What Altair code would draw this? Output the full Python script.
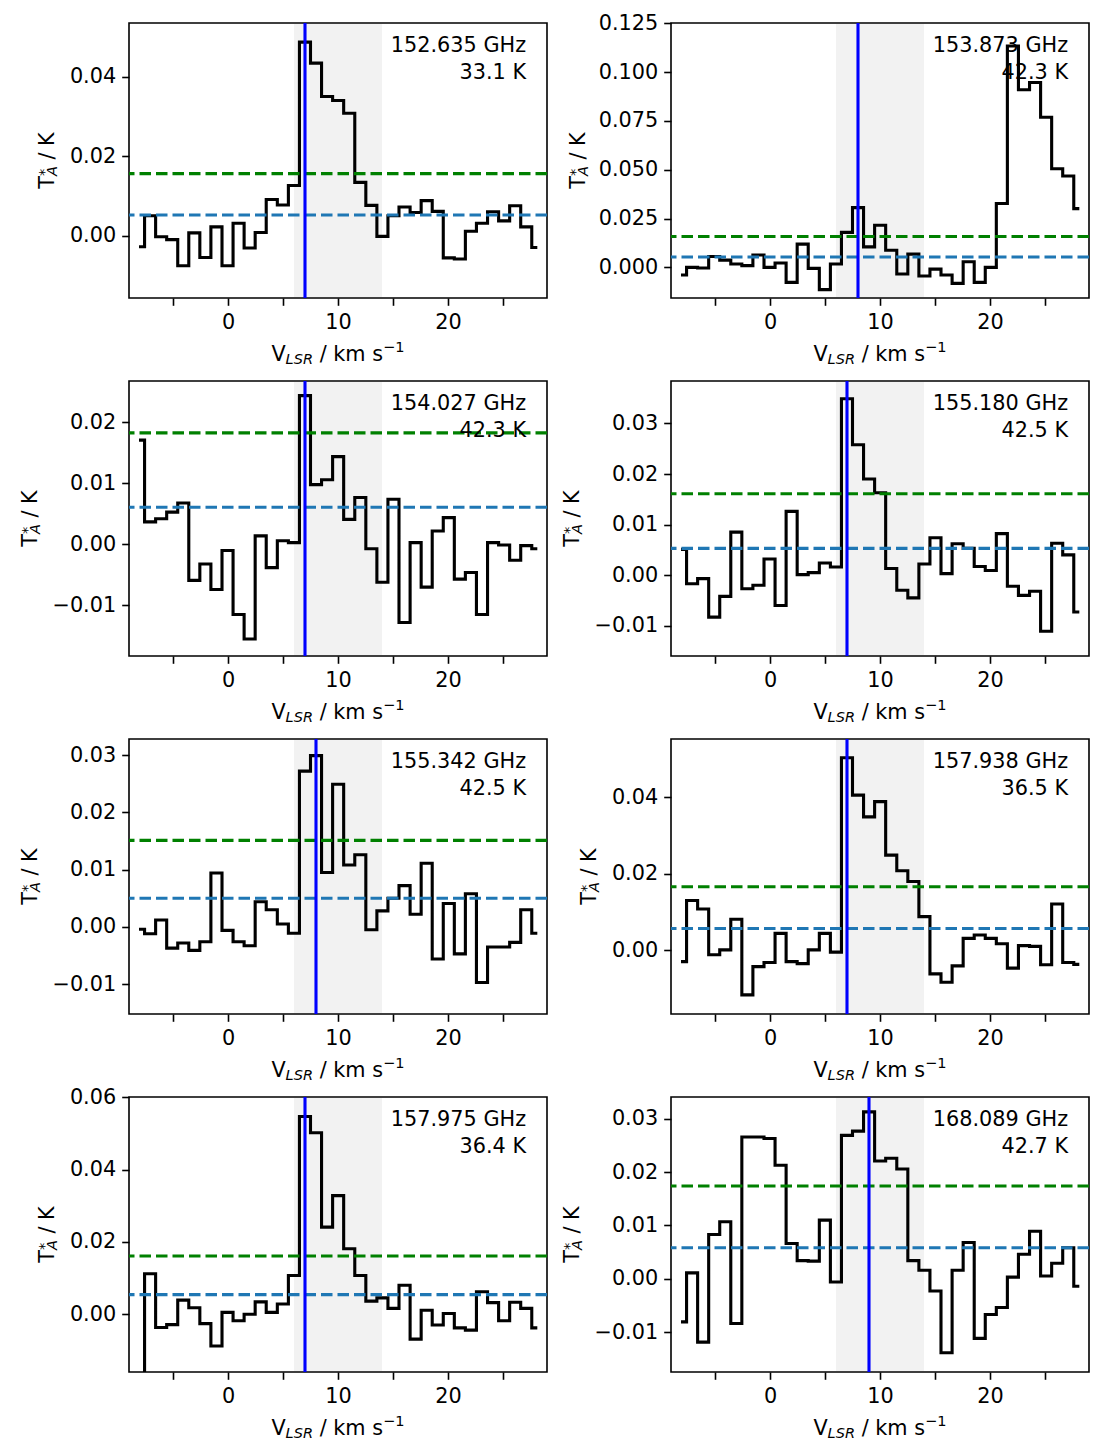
import altair as alt
import pandas as pd

# ---------------- data ----------------
VEL = [-8.09, -7.08, -6.08, -5.07, -4.07, -3.06, -2.06, -1.05, -0.04, 0.96,
       1.97, 2.97, 3.98, 4.99, 5.99, 7.00, 8.00, 9.01, 10.01, 11.02,
       12.03, 13.03, 14.04, 15.04, 16.05, 17.06, 18.06, 19.07, 20.07, 21.08,
       22.08, 23.09, 24.10, 25.10, 26.11, 27.11, 28.12]

T_152635 = [-0.0028, 0.0050, -0.0003, -0.0010, -0.0076, 0.0007, -0.0055, 0.0022, -0.0076, 0.0031,
            -0.0031, 0.0008, 0.0091, 0.0077, 0.0126, 0.0487, 0.0434, 0.0350, 0.0340, 0.0308,
            0.0134, 0.0076, -0.0002, 0.0050, 0.0072, 0.0058, 0.0088, 0.0061, -0.0056, -0.0059,
            0.0011, 0.0031, 0.0060, 0.0037, 0.0075, 0.0022, -0.0030]
T_153873 = [-0.0039, 0.0000, -0.0003, 0.0056, 0.0037, 0.0017, 0.0009, 0.0063, 0.0000, 0.0022,
            -0.0077, 0.0119, -0.0005, -0.0114, 0.0017, 0.0179, 0.0306, 0.0105, 0.0216, 0.0088,
            -0.0034, 0.0068, -0.0044, -0.0009, -0.0039, -0.0082, 0.0029, -0.0077, 0.0000, 0.0327,
            0.1134, 0.0910, 0.0947, 0.0769, 0.0505, 0.0468, 0.0301]
T_154027 = [0.0171, 0.0037, 0.0042, 0.0053, 0.0068, -0.0059, -0.0032, -0.0074, -0.0010, -0.0115,
            -0.0155, 0.0014, -0.0038, 0.0006, 0.0003, 0.0244, 0.0098, 0.0106, 0.0144, 0.0041,
            0.0077, -0.0007, -0.0062, 0.0074, -0.0128, 0.0003, -0.0070, 0.0022, 0.0044, -0.0057,
            -0.0046, -0.0115, 0.0003, -0.0001, -0.0026, -0.0002, -0.0007]
T_155180 = [0.0051, -0.0017, -0.0007, -0.0083, -0.0042, 0.0085, -0.0027, -0.0020, 0.0032, -0.0060,
            0.0126, 0.0001, 0.0005, 0.0024, 0.0016, 0.0349, 0.0258, 0.0190, 0.0163, 0.0013,
            -0.0030, -0.0045, 0.0022, 0.0074, 0.0003, 0.0062, 0.0053, 0.0017, 0.0009, 0.0082,
            -0.0022, -0.0040, -0.0032, -0.0111, 0.0063, 0.0040, -0.0073]
T_155342 = [-0.0004, -0.0012, 0.0012, -0.0037, -0.0028, -0.0041, -0.0026, 0.0094, -0.0006, -0.0026,
            -0.0033, 0.0044, 0.0030, 0.0005, -0.0011, 0.0272, 0.0299, 0.0095, 0.0249, 0.0108,
            0.0126, -0.0005, 0.0028, 0.0050, 0.0072, 0.0022, 0.0111, -0.0056, 0.0041, -0.0047,
            0.0058, -0.0097, -0.0035, -0.0035, -0.0027, 0.0030, -0.0011]
T_157938 = [-0.0030, 0.0130, 0.0108, -0.0012, 0.0001, 0.0081, -0.0117, -0.0043, -0.0032, 0.0044,
            -0.0030, -0.0035, 0.0001, 0.0044, -0.0005, 0.0504, 0.0406, 0.0349, 0.0389, 0.0249,
            0.0208, 0.0180, 0.0088, -0.0062, -0.0084, -0.0041, 0.0031, 0.0040, 0.0031, 0.0017,
            -0.0047, 0.0012, 0.0010, -0.0038, 0.0121, -0.0032, -0.0037]
T_157975 = [-0.0165, 0.0112, -0.0037, -0.0029, 0.0039, 0.0018, -0.0026, -0.0088, 0.0005, -0.0018,
            0.0000, 0.0034, 0.0005, 0.0028, 0.0107, 0.0547, 0.0502, 0.0241, 0.0328, 0.0181,
            0.0107, 0.0036, 0.0045, 0.0016, 0.0080, -0.0069, 0.0011, -0.0030, 0.0002, -0.0038,
            -0.0044, 0.0062, 0.0032, -0.0018, 0.0033, 0.0016, -0.0038]
T_168089 = [-0.0081, 0.0011, -0.0119, 0.0083, 0.0107, -0.0084, 0.0266, 0.0266, 0.0263, 0.0213,
            0.0066, 0.0034, 0.0033, 0.0110, -0.0006, 0.0269, 0.0277, 0.0313, 0.0221, 0.0226,
            0.0206, 0.0034, 0.0016, -0.0023, -0.0139, 0.0016, 0.0068, -0.0112, -0.0067, -0.0054,
            0.0003, 0.0046, 0.0089, 0.0005, 0.0029, 0.0058, -0.0014]

SPECTRA = [T_152635, T_153873, T_154027, T_155180, T_155342, T_157938, T_157975, T_168089]
FREQ = ["152.635 GHz", "153.873 GHz", "154.027 GHz", "155.180 GHz",
        "155.342 GHz", "157.938 GHz", "157.975 GHz", "168.089 GHz"]
TEMP = ["33.1 K", "42.3 K", "42.3 K", "42.5 K", "42.5 K", "36.5 K", "36.4 K", "42.7 K"]
V_LINE = [7, 8, 7, 7, 8, 7, 7, 9]
RMS = [0.0052, 0.0053, 0.0061, 0.0053, 0.0050, 0.0057, 0.0054, 0.0058]
THREE_SIGMA = [0.0156, 0.0158, 0.0183, 0.0161, 0.0151, 0.0166, 0.0161, 0.0174]
WINDOW = [6, 14]

X_DOMAIN = [-9, 29]
X_TICKS = [-5, 0, 5, 10, 15, 20, 25]
Y_DOMAIN = [[-0.0157, 0.0535], [-0.0157, 0.1252], [-0.0183, 0.0268], [-0.0160, 0.0384],
            [-0.0152, 0.0328], [-0.0167, 0.0553], [-0.0160, 0.0601], [-0.0175, 0.0341]]
Y_TICKS = [[0, 0.02, 0.04], [0, 0.025, 0.05, 0.075, 0.1, 0.125], [-0.01, 0, 0.01, 0.02],
           [-0.01, 0, 0.01, 0.02, 0.03], [-0.01, 0, 0.01, 0.02, 0.03], [0, 0.02, 0.04],
           [0, 0.02, 0.04, 0.06], [-0.01, 0, 0.01, 0.02, 0.03]]
Y_FORMAT = [".2f", ".3f", ".2f", ".2f", ".2f", ".2f", ".2f", ".2f"]

# ---------------- layout / style ----------------
W, H = 418, 275
FS, SS = 20.8, 14.56
FONT = "DejaVu Sans"
TITLE_OFFSET = [75, 86, 92, 92, 92, 75, 75, 92]
LEFT_EXTENT = [123, 120]
ONE = pd.DataFrame({"a": [0]})


def txt(text, x, y, size=FS, italic=False, angle=0, align="left"):
    kw = dict(align=align, baseline="alphabetic", fontSize=size, font=FONT, color="black")
    if italic:
        kw["fontStyle"] = "italic"
    if angle:
        kw["angle"] = angle
    return alt.Chart(ONE).mark_text(**kw).encode(
        x=alt.value(x), y=alt.value(y), text=alt.value(text))


def panel(i):
    xs = alt.Scale(domain=X_DOMAIN, nice=False, zero=False)
    ys = alt.Scale(domain=Y_DOMAIN[i], nice=False, zero=False)
    xax = alt.Axis(values=X_TICKS, format="d",
                   labelExpr="datum.value % 10 === 0 ? datum.label : ''",
                   title=None, grid=False, domain=False, labelFlush=False,
                   labelOverlap=False, labelPadding=7, tickSize=7.3)
    yax = alt.Axis(values=Y_TICKS[i], format=Y_FORMAT[i], title=None, grid=False,
                   domain=False, labelFlush=False, labelOverlap=False,
                   labelPadding=6, tickSize=7.3)

    bounds = alt.Chart(ONE).mark_rect(opacity=0).encode(
        x=alt.value(-LEFT_EXTENT[i % 2]), x2=alt.value(W - 1),
        y=alt.value(-12), y2=alt.value(H + 66))
    shade = alt.Chart(pd.DataFrame({"lo": [WINDOW[0]], "hi": [WINDOW[1]]})).mark_rect(
        color="#f2f2f2").encode(
        x=alt.X("lo:Q", scale=xs, axis=xax), x2="hi:Q",
        y=alt.value(1), y2=alt.value(H - 1))
    spec = pd.DataFrame({"v": VEL, "t": SPECTRA[i]})
    line = alt.Chart(spec).mark_line(
        interpolate="step", color="black", strokeWidth=3.1, clip=True,
        strokeJoin="miter").encode(
        x=alt.X("v:Q", scale=xs, axis=xax), y=alt.Y("t:Q", scale=ys, axis=yax))
    green = alt.Chart(pd.DataFrame({"g": [THREE_SIGMA[i]]})).mark_rule(
        color="#008000", strokeWidth=3.1, strokeDash=[11.5, 5]).encode(
        y=alt.Y("g:Q", scale=ys, axis=yax))
    blue = alt.Chart(pd.DataFrame({"b": [RMS[i]]})).mark_rule(
        color="#1f77b4", strokeWidth=3.1, strokeDash=[11.5, 5]).encode(
        y=alt.Y("b:Q", scale=ys, axis=yax))
    vline = alt.Chart(pd.DataFrame({"vl": [V_LINE[i]]})).mark_rule(
        color="#0000ff", strokeWidth=3.1).encode(
        x=alt.X("vl:Q", scale=xs, axis=xax))

    ann1 = txt(FREQ[i], 0.95 * W, 28.5, align="right")
    ann2 = txt(TEMP[i], 0.95 * W, 56, align="right")

    # y title: T*_A / K (rotated)
    off = TITLE_OFFSET[i]
    y0 = H / 2 + 28.3
    yt = [txt("T", -off, y0, angle=270),
          txt("*", -off - 5, y0 - 12.7, size=SS, angle=270),
          txt("A", -off + 3.4, y0 - 12.7, size=SS, italic=True, angle=270),
          txt("/ K", -off, y0 - 12.7 - 10.0 - 6.6, angle=270)]

    # x title: V_LSR / km s^-1
    xb = H + 63
    x0 = W / 2 - 66.6
    xt = [txt("V", x0, xb),
          txt("LSR", x0 + 14.2, xb + 3, size=SS, italic=True),
          txt("/ km s", x0 + 14.2 + 27.5 + 6.6, xb),
          txt("\u22121", x0 + 14.2 + 27.5 + 6.6 + 63.4, xb - 8.7, size=SS)]

    return alt.layer(bounds, shade, line, green, blue, vline, ann1, ann2,
                     *yt, *xt).properties(width=W, height=H)


rows = [alt.hconcat(panel(2 * r), panel(2 * r + 1), spacing=0) for r in range(4)]
chart = alt.vconcat(*rows, spacing=0).properties(
    padding={"left": 5, "top": 10, "right": 5, "bottom": 5}
).configure_view(
    stroke="black", strokeWidth=1.6
).configure_axis(
    labelFont=FONT, labelFontSize=FS, labelColor="black",
    tickColor="black", tickWidth=1.6
)

chart.save("out.html", embed_options={"renderer": "svg", "actions": False})
